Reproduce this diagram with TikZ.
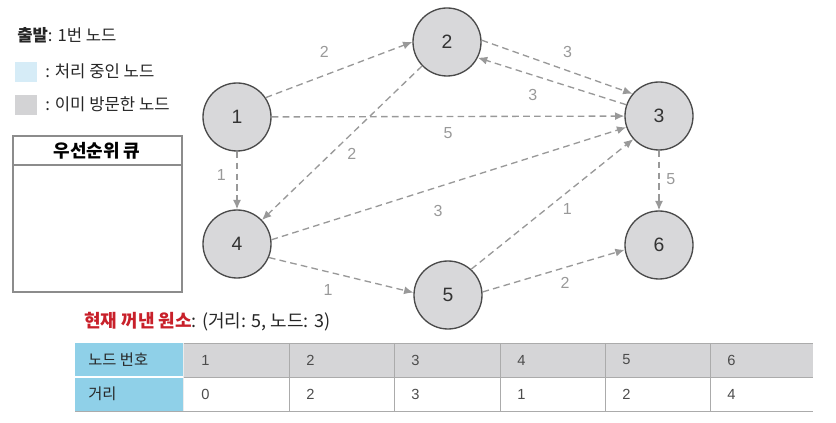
\documentclass[tikz,border=0pt]{standalone}
\usepackage{fontspec}
\setmainfont{Noto Sans CJK KR}
\newfontfamily\numfont{Liberation Sans}
\usetikzlibrary{positioning, arrows.meta}

\definecolor{nodegray}{HTML}{D8D8DA}
\definecolor{ringgray}{HTML}{4A4A4A}
\definecolor{edgegray}{HTML}{999999}
\definecolor{legendblue}{HTML}{D6ECF7}
\definecolor{legendgray}{HTML}{D3D3D5}
\definecolor{boxgray}{HTML}{8C8C8C}
\definecolor{popred}{HTML}{C8202A}
\definecolor{tableblue}{HTML}{8FD0E8}
\definecolor{headgray}{HTML}{D5D5D7}
\definecolor{tableline}{HTML}{ABABAB}

\begin{document}
\begin{tikzpicture}[x=0.75pt, y=-0.75pt,
    vertex/.style={circle, draw=ringgray, fill=nodegray, line width=1pt,
        minimum size=51pt, inner sep=0pt, text=black!80,
        font=\numfont\fontsize{14.5}{14}\selectfont},
    edge/.style={draw=edgegray, dash pattern=on 5pt off 3.2pt, line width=1pt,
        -{Latex[length=7pt, width=6pt]}},
    weight/.style={inner sep=2pt, text=edgegray,
        font=\numfont\fontsize{12}{12}\selectfont},
    legend/.style={anchor=west, inner sep=0pt, text=black!85,
        font=\fontsize{12.5}{13}\selectfont},
    cell/.style={anchor=west, inner sep=0pt, text=black!70,
        font=\numfont\fontsize{11}{11}\selectfont},
]
    \useasboundingbox (0,0) rectangle (836,423);

    % legend
    \node[legend] (start) at (17,35) {\textbf{출발}: 1번 노드};
    \fill[legendblue] (15,62) rectangle (37,82);
    \node[legend] (busy) at (45,71) {: 처리 중인 노드};
    \fill[legendgray] (15,95) rectangle (37,115);
    \node[legend] (seen) at (45,104) {: 이미 방문한 노드};

    % priority queue
    \draw[boxgray, line width=1.1pt] (13,136) rectangle (182,292);
    \draw[boxgray, line width=1.1pt] (13,165) -- (182,165);
    \node[inner sep=0pt, font=\bfseries\fontsize{13.5}{13}\selectfont] (queue) at (97,151) {우선순위 큐};

    % graph
    \node[vertex] (n1) at (237,117) {1};
    \node[vertex] (n2) at (447,42) {2};
    \node[vertex] (n3) at (659,116) {3};
    \node[vertex] (n4) at (237,244) {4};
    \node[vertex] (n5) at (448,295) {5};
    \node[vertex] (n6) at (659,245) {6};

    \draw[edge] (n1.34) -- node[weight, pos=0.4, above=11pt] {2} (n2.180);
    \draw[edge] (n1) -- node[weight, pos=0.5, below=6pt] {5} (n3);
    \draw[edge] (n1) -- node[weight, pos=0.4, left=6pt] {1} (n4);
    \draw[edge] (n2.3) -- node[weight, pos=0.57, above=7pt] {3} (n3.140);
    \draw[edge] (n3.161) -- node[weight, pos=0.63, below=8pt] {3} (n2.333);
    \draw[edge] (n2) -- node[weight, pos=0.57, right=10pt] {2} (n4);
    \draw[edge] (n4.7) -- node[weight, pos=0.47, below=11pt] {3} (n3.199);
    \draw[edge] (n4.337) -- node[weight, pos=0.41, below=7pt] {1} (n5.176);
    \draw[edge] (n5.48) -- node[weight, pos=0.54, below right=1pt] {1} (n3.222);
    \draw[edge] (n5.5) -- node[weight, pos=0.58, below=5pt] {2} (n6.188);
    \draw[edge] (n3) -- node[weight, pos=0.48, right=3pt] {5} (n6);

    % popped element
    \node[legend, font=\fontsize{13.5}{13}\selectfont] (popped) at (84,322)
        {\textcolor{popred}{\textbf{현재 꺼낸 원소}}: (거리: 5, 노드: 3)};

    % distance table
    \fill[tableblue] (75,343) rectangle (183,411);
    \fill[headgray] (183,343) rectangle (813,377);
    \draw[tableline] (183,343) -- (813,343);
    \draw[white, line width=1pt] (75,377) -- (183,377);
    \draw[tableline] (183,377) -- (813,377);
    \draw[tableline] (75,411) -- (813,411);
    \draw[white!85!gray] (183,343) -- (183,411);
    \draw[tableline] (289,343) -- (289,411);
    \draw[tableline] (394,343) -- (394,411);
    \draw[tableline] (500,343) -- (500,411);
    \draw[tableline] (605,343) -- (605,411);
    \draw[tableline] (710,343) -- (710,411);

    \node[cell, font=\fontsize{11.5}{11}\selectfont, text=black!85] (hnode) at (88,360) {노드 번호};
    \node[cell, font=\fontsize{11.5}{11}\selectfont, text=black!85] (hdist) at (88,394) {거리};
    \node[cell] (c1) at (201,360) {1};
    \node[cell] (c2) at (306,360) {2};
    \node[cell] (c3) at (411,360) {3};
    \node[cell] (c4) at (517,360) {4};
    \node[cell] (c5) at (622,360) {5};
    \node[cell] (c6) at (727,360) {6};
    \node[cell] (d1) at (201,394) {0};
    \node[cell] (d2) at (306,394) {2};
    \node[cell] (d3) at (411,394) {3};
    \node[cell] (d4) at (517,394) {1};
    \node[cell] (d5) at (622,394) {2};
    \node[cell] (d6) at (727,394) {4};
\end{tikzpicture}
\end{document}
